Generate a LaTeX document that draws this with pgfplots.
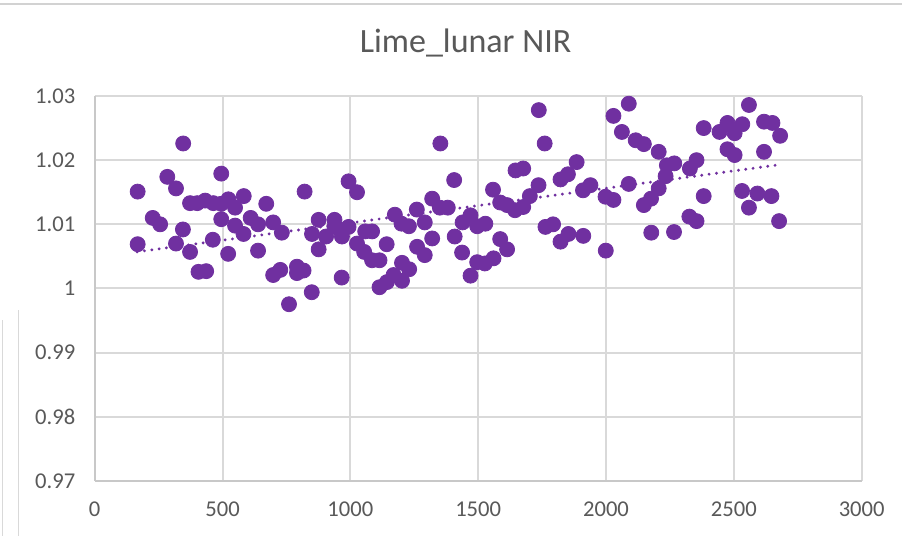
\documentclass[border=0pt]{standalone}
\usepackage{fontspec}
\setmainfont{Carlito}
\usepackage{pgfplots}
\usepackage{pgfplotstable}
\pgfplotsset{compat=1.18}
\definecolor{pts}{HTML}{7030A0}
\definecolor{gridc}{HTML}{D9D9D9}
\definecolor{axc}{HTML}{C8C8C8}
\definecolor{txt}{HTML}{595959}
\pgfplotstableread{
x y
168 1.0151
168 1.0069
227 1.0110
256 1.0100
284 1.0174
318 1.0156
318 1.0070
345 1.0092
346 1.0226
373 1.0057
406 1.0026
436 1.0027
495 1.0179
373 1.0133
401 1.0133
432 1.0137
464 1.0133
495 1.0132
523 1.0139
549 1.0126
583 1.0144
495 1.0108
549 1.0098
582 1.0085
462 1.0076
522 1.0054
610 1.0110
639 1.0100
671 1.0132
698 1.0103
639 1.0059
698 1.0021
726 1.0029
732 1.0087
791 1.0034
791 1.0024
817 1.0028
760 0.99755
849 0.99942
821 1.0151
876 1.0107
850 1.0085
905 1.0081
938 1.0107
938 1.0096
967 1.0081
993 1.0096
876 1.0061
966 1.0017
993 1.0167
1026 1.0150
1026 1.0070
1058 1.0089
1085 1.0089
1054 1.0057
1085 1.0044
1114 1.0044
1142 1.0069
1114 1.0002
1143 1.0010
1169 1.0021
1202 1.0012
1202 1.0040
1230 1.0030
1174 1.0115
1200 1.0101
1229 1.0097
1260 1.0123
1261 1.0065
1291 1.0052
1291 1.0103
1320 1.0078
1320 1.0140
1350 1.0126
1381 1.0126
1352 1.0226
1406 1.0169
1408 1.0081
1439 1.0103
1470 1.0114
1437 1.0056
1470 1.0020
1496 1.0097
1528 1.0101
1496 1.0041
1526 1.0039
1560 1.0047
1558 1.0154
1586 1.0134
1613 1.0130
1644 1.0122
1676 1.0127
1586 1.0077
1613 1.0061
1646 1.0184
1676 1.0187
1737 1.0278
1760 1.0226
1702 1.0144
1736 1.0161
1763 1.0096
1793 1.0100
1822 1.0170
1851 1.0178
1885 1.0197
1822 1.0073
1853 1.0085
1911 1.0082
1910 1.0153
1939 1.0161
1998 1.0143
2029 1.0138
1999 1.0059
2029 1.0269
2089 1.0288
2062 1.0244
2116 1.0231
2148 1.0225
2206 1.0213
2238 1.0192
2267 1.0195
2233 1.0175
2089 1.0163
2206 1.0156
2176 1.0140
2148 1.0130
2177 1.0087
2266 1.0088
2328 1.0187
2354 1.0200
2382 1.0144
2326 1.0112
2354 1.0105
2382 1.0250
2444 1.0244
2475 1.0258
2503 1.0242
2533 1.0256
2475 1.0217
2503 1.0208
2559 1.0286
2532 1.0152
2592 1.0148
2647 1.0144
2559 1.0126
2618 1.0260
2651 1.0258
2681 1.0238
2618 1.0213
2677 1.0105
}\datatable
\begin{document}
\begin{tikzpicture}
\path[use as bounding box] (0,0) rectangle (451pt,268pt);
\fill[white] (0,0) rectangle (451pt,268pt);
\draw[gray!35, line width=1.2pt] (0,266pt) -- (451pt,266pt);
\draw[gray!30, line width=0.8pt] (9.15pt,0) -- (9.15pt,113pt);
\draw[gray!30, line width=0.8pt] (1.35pt,0) -- (1.35pt,108pt);
\begin{axis}[
  at={(47.35pt,27.5pt)}, anchor=south west,
  scale only axis, width=383.5pt, height=192.5pt,
  xmin=0, xmax=3000, ymin=0.97, ymax=1.03,
  xtick={0,500,1000,1500,2000,2500,3000},
  xticklabels={0,500,1000,1500,2000,2500,3000},
  ytick={0.97,0.98,0.99,1,1.01,1.02,1.03},
  yticklabels={0.97,0.98,0.99,1,1.01,1.02,1.03},
  axis x line*=bottom, axis y line*=left,
  axis line style={axc, line width=1pt, -},
  grid=major, major grid style={gridc, line width=1pt},
  tick style={draw=none},
  tick label style={font=\fontsize{11.3}{13}\selectfont, text=txt},
  yticklabel style={xshift=-6.2pt},
  xticklabel style={yshift=-7pt},
  title={Lime\_lunar NIR},
  title style={at={(0.5,1)}, anchor=center, yshift=20.5pt, xshift=-6.3pt,
    font=\fontsize{17}{20}\selectfont, text=txt},
  clip=false,
]
\addplot[only marks, mark=*, mark size=3.75pt, draw=pts, fill=pts,
  mark options={draw=pts, fill=pts}] table[x=x, y=y] {\datatable};
\addplot[pts, line width=1.6pt, line cap=round, dash pattern=on 0pt off 3.7pt]
  coordinates {(166,1.00571) (2668,1.01924)};
\end{axis}
\end{tikzpicture}
\end{document}
